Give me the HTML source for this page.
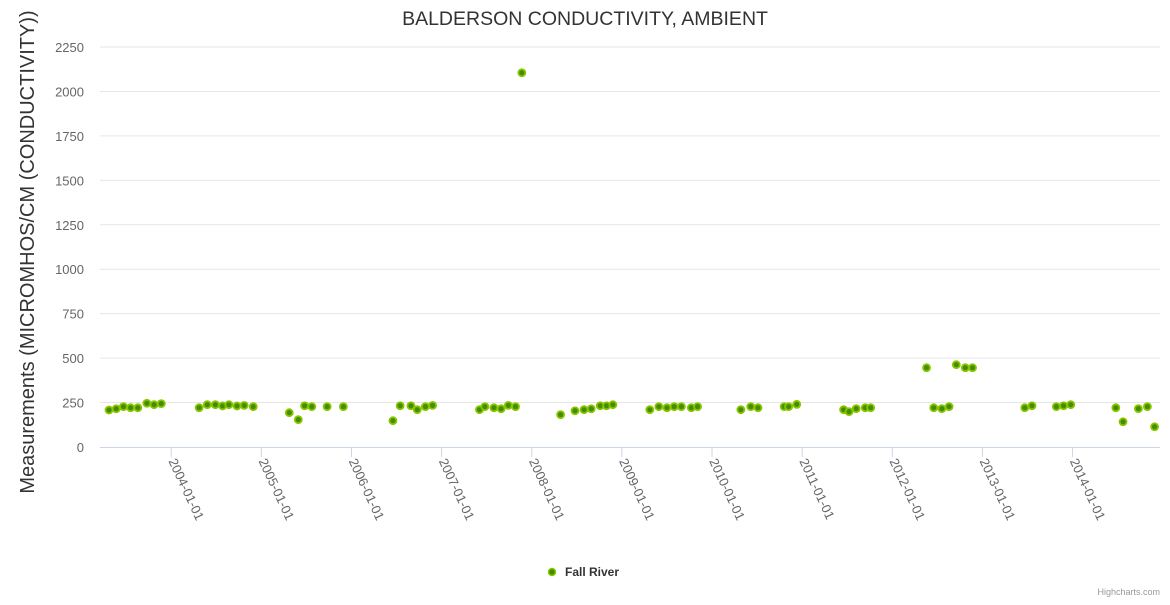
<!DOCTYPE html>
<html><head><meta charset="utf-8"><style>
body{margin:0;background:#fff;font-family:"Liberation Sans",sans-serif;}
</style></head><body>
<svg id="chart" width="1170" height="600" xmlns="http://www.w3.org/2000/svg" font-family="Liberation Sans, sans-serif">
<text x="585" y="25" text-anchor="middle" font-size="19.5" fill="#333">BALDERSON CONDUCTIVITY, AMBIENT</text>
<text transform="translate(34,252) rotate(-90)" text-anchor="middle" font-size="20" fill="#333">Measurements (MICROMHOS/CM (CONDUCTIVITY))</text>
<g id="grid"></g><g id="xaxis"></g><g id="pts"></g>
<g>
<circle cx="552" cy="572" r="3.5" fill="#3f8f00" stroke="#8cc400" stroke-width="1.5"/>
<text x="565" y="576" font-size="12" font-weight="bold" fill="#333">Fall River</text>
</g>
<text x="1160" y="595" text-anchor="end" font-size="9" fill="#999">Highcharts.com</text>
</svg>
<script>
const yTicks=[0,250,500,750,1000,1250,1500,1750,2000,2250];
const xTickYears=[2004,2005,2006,2007,2008,2009,2010,2011,2012,2013,2014];
const dates=[2003.31,2003.39,2003.47,2003.55,2003.63,2003.73,2003.81,2003.89,
2004.31,2004.40,2004.49,2004.57,2004.64,2004.73,2004.81,2004.91,
2005.31,2005.41,2005.48,2005.56,2005.73,2005.91,
2006.46,2006.54,2006.66,2006.73,2006.82,2006.90,
2007.42,2007.48,2007.58,2007.66,2007.74,2007.82,2007.89,
2008.32,2008.48,2008.58,2008.66,2008.76,2008.83,2008.90,
2009.31,2009.41,2009.50,2009.58,2009.66,2009.77,2009.84,
2010.32,2010.43,2010.51,2010.80,2010.85,2010.94,
2011.46,2011.52,2011.60,2011.70,2011.76,
2012.38,2012.46,2012.55,2012.63,2012.71,2012.81,2012.89,
2013.47,2013.55,2013.82,2013.90,2013.98,
2014.48,2014.56,2014.73,2014.83,2014.91];
const values=[208,215,227,221,221,246,238,244,
221,238,238,231,238,231,234,227,
193,154,232,227,227,227,
148,232,232,210,227,234,
210,227,221,215,234,227,2105,
182,204,210,215,232,232,238,
210,227,221,227,227,221,227,
210,227,221,227,227,240,
210,199,216,221,221,
446,221,216,227,463,446,446,
221,232,227,232,238,
221,142,216,227,114];
const L=100,R=1160,T=47,B=447,X0=2003.21,X1=2014.97,YMAX=2250;
const sx=v=>L+(v-X0)/(X1-X0)*(R-L);
const sy=v=>B-v/YMAX*(B-T);
const NS="http://www.w3.org/2000/svg";
function mk(t,a,p){const e=document.createElementNS(NS,t);for(const k in a)e.setAttribute(k,a[k]);p.appendChild(e);return e;}
const g=document.getElementById('grid');
yTicks.forEach(v=>{
 if(v>0){const l=mk('line',{x1:L,x2:R,y1:sy(v),y2:sy(v),stroke:'#e6e6e6'},g);
 
 }
 const t=mk('text',{x:L-16,y:sy(v)+5,'text-anchor':'end','font-size':13,fill:'#666'},g);t.textContent=v;
 
 
});
const xa=document.getElementById('xaxis');
const ax=mk('line',{x1:L,x2:R,y1:B+0.5,y2:B+0.5,stroke:'#ccd6eb'},xa);


xTickYears.forEach(yr=>{
 const x=sx(yr);
 mk('line',{x1:x,x2:x,y1:B,y2:B+10,stroke:'#ccd6eb'},xa);
 const t=mk('text',{x:0,y:0,'font-size':13,fill:'#666',transform:`translate(${x-3},${B+14}) rotate(65)`},xa);
 t.textContent=yr+'-01-01';
 
 
});
const p=document.getElementById('pts');
dates.forEach((d,i)=>{
 const c=mk('circle',{cx:sx(d),cy:sy(values[i]),r:3.5,fill:'#3f8f00',stroke:'#8cc400','stroke-width':1.8},p);
 
 
});
</script>
</body></html>
